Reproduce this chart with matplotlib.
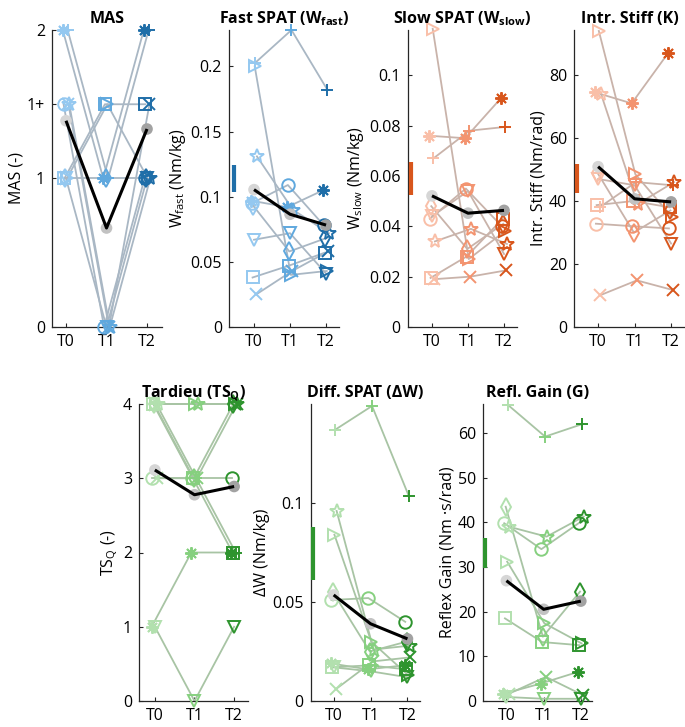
import numpy as np
import matplotlib.pyplot as plt

plt.rcParams['font.family'] = ['Open Sans', 'DejaVu Sans']
plt.rcParams['font.size'] = 11.5
plt.rcParams['mathtext.fontset'] = 'custom'
plt.rcParams['mathtext.rm'] = 'Open Sans'
plt.rcParams['mathtext.bf'] = 'Open Sans:bold'

# one row per subject, columns T0, T1, T2
markers = [(8, 2, 0), 'o', 's', 'd', 'v', '>', '+', 'x', '*']
times = ['T0', 'T1', 'T2']

mas = [[2, 1, 2], [1.5, 0, 1], [1, 1.5, 1.5], [1, 1, 1], [1, 0, 1],
       [1, 1.5, 1], [2, 1, 2], [1.5, 0, 1.5], [1.5, 0, 1]]
w_fast = [[0.097, 0.092, 0.105], [0.095, 0.109, 0.078], [0.038, 0.047, 0.057],
          [0.093, 0.058, 0.068], [0.067, 0.072, 0.041], [0.200, 0.040, 0.043],
          [0.203, 0.228, 0.182], [0.025, 0.043, 0.058], [0.131, 0.090, 0.072]]
w_slow = [[0.076, 0.075, 0.091], [0.043, 0.055, 0.040], [0.0195, 0.028, 0.043],
          [0.048, 0.031, 0.041], [0.044, 0.054, 0.029], [0.1185, 0.027, 0.038],
          [0.067, 0.078, 0.0795], [0.019, 0.020, 0.0225], [0.034, 0.039, 0.033]]
stiff = [[74.5, 71, 87], [32.8, 32, 31.3], [38.7, 40, 38], [49, 30, 37],
         [47, 45, 26.5], [94, 48.5, 35], [38, 46, 45], [10.1, 14.8, 11.7],
         [74, 39, 46]]
ts_q = [[1, 2, 2], [3, 3, 3], [4, 3, 2], [4, 3, 4], [1, 0, 1],
        [4, 4, 4], [4, 3, 2], [3, 3, 4], [4, 4, 4]]
delta_w = [[0.019, 0.016, 0.018], [0.051, 0.052, 0.040], [0.017, 0.018, 0.016],
           [0.055, 0.025, 0.030], [0.017, 0.015, 0.012], [0.084, 0.030, 0.013],
           [0.137, 0.149, 0.1034], [0.006, 0.020, 0.022], [0.096, 0.026, 0.028]]
gain = [[1.6, 3.9, 6.5], [39.8, 34, 39.8], [18.5, 13.2, 12.5], [43.5, 14.4, 24.5],
        [0.9, 0.5, 0.5], [31.2, 17.4, 12.9], [66.3, 59.2, 62], [1.6, 5.4, 1.3],
        [39, 36.8, 41.3]]

# coloured reference bars (low, high)
bar_fast = [0.104, 0.124]
bar_slow = [0.0523, 0.0655]
bar_stiff = [42.4, 51.9]
bar_dw = [0.061, 0.088]
bar_gain = [29.7, 36.6]

blue = dict(t=['#94c8f0', '#5fa8de', '#1f6ea8'], line='#a9b7c4', bar='#1f6ea8')
orange = dict(t=['#f9bfa8', '#f39470', '#d8561c'], line='#c9b3aa', bar='#d8561c')
green = dict(t=['#b2e0ae', '#86d07f', '#2e942e'], line='#a8c4a4', bar='#2e942e')
mean_cols = ['#d6d6d6', '#c2c2c2', '#a2a2a2']
axcol = '#262626'

W, H = 685, 727
fig = plt.figure(figsize=(W / 100, H / 100), dpi=100)


def add_ax(l, r, b, t):
    return fig.add_axes([l / W, 1 - b / H, (r - l) / W, (b - t) / H])


def panel(ax, data, pal, xlim, ylim, yticks, ytl, title, ylabel, bar=None):
    data = np.array(data, dtype=float)
    x = np.arange(1, 4)
    jit = np.linspace(-0.08, 0.08, len(data))
    for i, row in enumerate(data):
        ax.plot(x + jit[i], row, color=pal['line'], lw=1.3, zorder=2, clip_on=False)
    for i, row in enumerate(data):
        for j in range(3):
            ax.plot(x[j] + jit[i], row[j], ls='none', marker=markers[i],
                    ms=10 if markers[i] == '*' else 9,
                    mfc='none', mec=pal['t'][j], mew=1.4, zorder=3, clip_on=False)
    m = data.mean(axis=0)
    ax.scatter(x, m, s=70, c=mean_cols, zorder=4, clip_on=False, linewidths=0)
    ax.plot(x, m, color='k', lw=2.2, zorder=5, solid_capstyle='butt')
    if bar is not None:
        ax.plot([0.43, 0.43], bar, color=pal['bar'], lw=3, clip_on=False,
                solid_capstyle='butt', zorder=6)
    ax.set_xlim(xlim)
    ax.set_ylim(ylim)
    ax.set_xticks(x)
    ax.set_xticklabels(times)
    ax.set_yticks(yticks)
    if ytl is not None:
        ax.set_yticklabels(ytl)
    ax.set_title(title, fontweight='bold', fontsize=11.5, pad=5)
    ax.set_ylabel(ylabel, labelpad=2)
    for s in ['top', 'right']:
        ax.spines[s].set_visible(False)
    for s in ['left', 'bottom']:
        ax.spines[s].set_color(axcol)
        ax.spines[s].set_linewidth(0.9)
    ax.tick_params(direction='in', length=3, colors=axcol, labelcolor='k',
                   labelsize=11.5, pad=5)


ax = add_ax(52, 162, 327, 30)
panel(ax, mas, blue, [0.654, 3.37], [0, 2], [0, 1, 1.5, 2], ['0', '1', '1+', '2'],
      'MAS', 'MAS (-)')
ax = add_ax(229, 339, 327, 30)
panel(ax, w_fast, blue, [0.305, 3.36], [0, 0.228], [0, 0.05, 0.1, 0.15, 0.2],
      ['0', '0.05', '0.1', '0.15', '0.2'],
      r'Fast SPAT (W$_\mathbf{fast}$)', r'W$_\mathrm{fast}$ (Nm/kg)', bar_fast)
ax = add_ax(407.5, 517, 327, 30)
panel(ax, w_slow, orange, [0.32, 3.36], [0, 0.118], [0, 0.02, 0.04, 0.06, 0.08, 0.1],
      ['0', '0.02', '0.04', '0.06', '0.08', '0.1'],
      r'Slow SPAT (W$_\mathbf{slow}$)', r'W$_\mathrm{slow}$ (Nm/kg)', bar_slow)
ax = add_ax(574, 685, 327, 30)
panel(ax, stiff, orange, [0.34, 3.38], [0, 94.3], [0, 20, 40, 60, 80], None,
      'Intr. Stiff (K)', 'Intr. Stiff (Nm/rad)', bar_stiff)

ax = add_ax(139, 248, 701, 404)
panel(ax, ts_q, green, [0.6, 3.35], [0, 4], [0, 1, 2, 3, 4], None,
      r'Tardieu (TS$_\mathbf{Q}$)', r'TS$_\mathrm{Q}$ (-)')
ax = add_ax(310.8, 420, 701, 404)
panel(ax, delta_w, green, [0.38, 3.34], [0, 0.15], [0, 0.05, 0.1], ['0', '0.05', '0.1'],
      'Diff. SPAT (\u0394W)', '\u0394W (Nm/kg)', bar_dw)
ax = add_ax(483, 591.6, 701, 404)
panel(ax, gain, green, [0.37, 3.29], [0, 66.5], [0, 10, 20, 30, 40, 50, 60], None,
      'Refl. Gain (G)', 'Reflex Gain (Nm \u00b7s/rad)', bar_gain)

fig.savefig('out.png', dpi=100)
